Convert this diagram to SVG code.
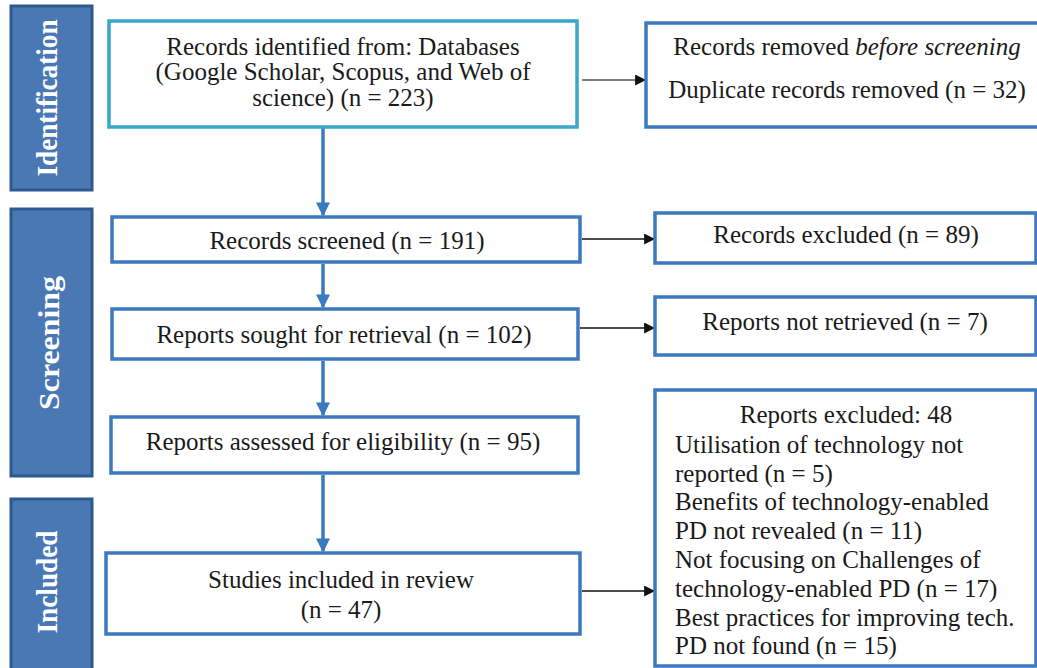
<svg xmlns="http://www.w3.org/2000/svg" width="1037" height="668" viewBox="0 0 1037 668">
<style>
.side{fill:#4a78b5;stroke:#2d5a8e;stroke-width:3}
.sl{font-family:"Liberation Serif","Times New Roman",serif;font-weight:bold;font-size:29px;fill:#ffffff;text-anchor:middle}
.box{fill:#ffffff;stroke:#3b79c1;stroke-width:3.5}
.cyan{fill:#ffffff;stroke:#3aa7c9;stroke-width:3.5}
.t{font-family:"Liberation Serif","Times New Roman",serif;font-size:25px;fill:#1a1a1a}
.c{text-anchor:middle}
.va{stroke:#3b79c1;stroke-width:3.5;fill:none;marker-end:url(#bh)}
.ha{stroke:#111;stroke-width:1.5;fill:none;marker-end:url(#kh)}
</style>
<defs>
<marker id="bh" viewBox="0 0 10 10" refX="9" refY="5" markerUnits="userSpaceOnUse" markerWidth="15" markerHeight="14" orient="auto"><path d="M0,0 L10,5 L0,10 z" fill="#3b79c1"/></marker>
<marker id="kh" viewBox="0 0 10 10" refX="9" refY="5" markerUnits="userSpaceOnUse" markerWidth="11" markerHeight="11" orient="auto"><path d="M0,0 L10,5 L0,10 z" fill="#111"/></marker>
</defs>
<rect width="1037" height="668" fill="#ffffff"/>
<g id="phase-identification"><rect class="side" x="11" y="6" width="81" height="184"/><text class="sl" transform="translate(57,98) rotate(-90)" textLength="157" lengthAdjust="spacingAndGlyphs">Identification</text></g>
<g id="phase-screening"><rect class="side" x="11" y="209" width="81" height="267"/><text class="sl" transform="translate(59,343) rotate(-90)" textLength="134" lengthAdjust="spacingAndGlyphs">Screening</text></g>
<g id="phase-included"><rect class="side" x="11" y="499" width="81" height="185"/><text class="sl" transform="translate(57,582) rotate(-90)" textLength="103" lengthAdjust="spacingAndGlyphs">Included</text></g>
<g id="connectors">
<line class="va" x1="323" y1="128" x2="323" y2="215"/>
<line class="va" x1="323" y1="264" x2="323" y2="307"/>
<line class="va" x1="323" y1="361" x2="323" y2="415"/>
<line class="va" x1="323" y1="475" x2="323" y2="551"/>
<line class="ha" x1="582" y1="80" x2="645" y2="80" style="stroke:#555"/>
<line class="ha" x1="582" y1="239" x2="654" y2="239"/>
<line class="ha" x1="580" y1="328" x2="654" y2="328"/>
<line class="ha" x1="582" y1="591" x2="654" y2="591"/>
</g>
<g id="records-identified"><rect class="cyan" x="109" y="21" width="468" height="106"/>
<text class="t c" x="343" y="55">Records identified from: Databases</text>
<text class="t c" x="343" y="80">(Google Scholar, Scopus, and Web of</text>
<text class="t c" x="343" y="106">science) (n = 223)</text></g>
<g id="records-removed"><rect class="box" x="646" y="23" width="396" height="104"/>
<text class="t c" x="847" y="55">Records removed <tspan font-style="italic">before screening</tspan></text>
<text class="t c" x="847" y="98">Duplicate records removed (n = 32)</text></g>
<g id="records-screened"><rect class="box" x="112" y="217" width="468" height="45"/><text class="t c" x="347" y="249">Records screened (n = 191)</text></g>
<g id="records-excluded"><rect class="box" x="655" y="213" width="381" height="50"/><text class="t c" x="846" y="243">Records excluded (n = 89)</text></g>
<g id="reports-sought"><rect class="box" x="112" y="309" width="466" height="50"/><text class="t c" x="344" y="343">Reports sought for retrieval (n = 102)</text></g>
<g id="reports-not-retrieved"><rect class="box" x="655" y="297" width="381" height="58"/><text class="t c" x="845" y="330">Reports not retrieved (n = 7)</text></g>
<g id="reports-assessed"><rect class="box" x="111" y="417" width="467" height="56"/><text class="t c" x="343" y="450">Reports assessed for eligibility (n = 95)</text></g>
<g id="reports-excluded"><rect class="box" x="655" y="390" width="381" height="276"/>
<text class="t c" x="846" y="423">Reports excluded: 48</text>
<text class="t" x="675" y="453">Utilisation of technology not</text>
<text class="t" x="675" y="482">reported (n = 5)</text>
<text class="t" x="675" y="510">Benefits of technology-enabled</text>
<text class="t" x="675" y="539">PD not revealed (n = 11)</text>
<text class="t" x="675" y="568">Not focusing on Challenges of</text>
<text class="t" x="675" y="597">technology-enabled PD (n = 17)</text>
<text class="t" x="675" y="626">Best practices for improving tech.</text>
<text class="t" x="675" y="654">PD not found (n = 15)</text></g>
<g id="studies-included"><rect class="box" x="106" y="553" width="474" height="81"/>
<text class="t c" x="341" y="588">Studies included in review</text>
<text class="t c" x="341" y="618">(n = 47)</text></g>
</svg>
